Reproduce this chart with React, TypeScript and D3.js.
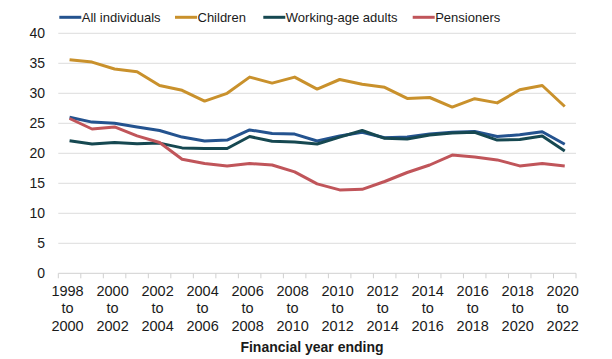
import React from "react";
import * as d3 from "d3";

const categories = [
  "1998 to 2000", "1999 to 2001", "2000 to 2002", "2001 to 2003", "2002 to 2004",
  "2003 to 2005", "2004 to 2006", "2005 to 2007", "2006 to 2008", "2007 to 2009",
  "2008 to 2010", "2009 to 2011", "2010 to 2012", "2011 to 2013", "2012 to 2014",
  "2013 to 2015", "2014 to 2016", "2015 to 2017", "2016 to 2018", "2017 to 2019",
  "2018 to 2020", "2019 to 2021", "2020 to 2022",
];

const allIndividuals = [26.0, 25.2, 25.0, 24.4, 23.8, 22.7, 22.05, 22.2, 23.9, 23.3, 23.2, 22.05, 22.9, 23.5, 22.6, 22.7, 23.2, 23.5, 23.65, 22.8, 23.1, 23.6, 21.5];
const children = [35.6, 35.2, 34.05, 33.6, 31.3, 30.5, 28.7, 30.0, 32.7, 31.7, 32.7, 30.7, 32.3, 31.5, 31.0, 29.15, 29.3, 27.7, 29.1, 28.4, 30.6, 31.3, 27.8];
const workingAge = [22.1, 21.55, 21.8, 21.6, 21.7, 20.9, 20.8, 20.8, 22.8, 22.0, 21.9, 21.55, 22.7, 23.8, 22.5, 22.4, 23.05, 23.4, 23.5, 22.2, 22.3, 22.9, 20.4];
const pensioners = [25.8, 24.05, 24.4, 22.9, 21.8, 19.0, 18.3, 17.9, 18.3, 18.05, 16.9, 14.9, 13.9, 14.0, 15.3, 16.8, 18.05, 19.7, 19.4, 18.9, 17.9, 18.3, 17.9];

const yTicks = [0, 5, 10, 15, 20, 25, 30, 35, 40];
const xAxisTitle = "Financial year ending";

const series = [
  { name: "All individuals", values: allIndividuals, color: "#24538f" },
  { name: "Children", values: children, color: "#c9912c" },
  { name: "Working-age adults", values: workingAge, color: "#164851" },
  { name: "Pensioners", values: pensioners, color: "#c0555a" },
];

const W = 612;
const H = 359;
const plotLeft = 58.3;
const plotRight = 576;
const plotTop = 33.3;
const plotBottom = 273.3;
const FONT = "'Liberation Sans', Arial, sans-serif";
const TEXT = "#1a1a1a";

const legendX = [59.3, 175, 263.3, 412.7];

export default function App() {
  const x = d3.scaleBand<string>().domain(categories).range([plotLeft, plotRight]).padding(0);
  const y = d3.scaleLinear().domain([0, 40]).range([plotBottom, plotTop]);
  const line = d3
    .line<number>()
    .x((_, i) => (x(categories[i]) as number) + x.bandwidth() / 2)
    .y((d) => y(d));

  const boundaries = categories.map((c) => x(c) as number).concat([plotRight]);

  return (
    <svg
      width={W}
      height={H}
      style={{ position: "absolute", left: 0, top: 0, background: "#fff" }}
      fontFamily={FONT}
    >
      {yTicks.map((t) => (
        <g key={t}>
          <line x1={plotLeft} x2={plotRight} y1={y(t)} y2={y(t)} stroke={t === 0 ? "#d0d0d0" : "#dcdcdc"} strokeWidth={1} />
          <text x={45} y={y(t)} dy="0.35em" textAnchor="end" fontSize={14} fill={TEXT}>
            {t}
          </text>
        </g>
      ))}
      {boundaries.map((b, i) => (
        <line key={i} x1={b} x2={b} y1={plotBottom} y2={plotBottom + 5} stroke="#d0d0d0" strokeWidth={1} />
      ))}
      {categories.map((c, i) => {
        if (i % 2 !== 0) return null;
        const parts = c.split(" ");
        const cx = (x(c) as number) + x.bandwidth() / 2 - 2;
        return (
          <text key={c} x={cx} textAnchor="middle" fontSize={14.5} fill={TEXT}>
            <tspan x={cx} y={296}>{parts[0]}</tspan>
            <tspan x={cx} y={313.3}>{parts[1]}</tspan>
            <tspan x={cx} y={330.7}>{parts[2]}</tspan>
          </text>
        );
      })}
      <text x={312} y={351.5} textAnchor="middle" fontSize={14} fontWeight="bold" fill={TEXT}>
        {xAxisTitle}
      </text>
      {series.map((s) => (
        <path key={s.name} d={line(s.values) || ""} fill="none" stroke={s.color} strokeWidth={3} strokeLinejoin="round" />
      ))}
      {series.map((s, i) => (
        <g key={s.name} transform={`translate(${legendX[i]},17.3)`}>
          <line x1={0} x2={22} y1={0} y2={0} stroke={s.color} strokeWidth={3} />
          <text x={22.5} y={0} dy="0.35em" fontSize={13} fill={TEXT}>
            {s.name}
          </text>
        </g>
      ))}
    </svg>
  );
}
